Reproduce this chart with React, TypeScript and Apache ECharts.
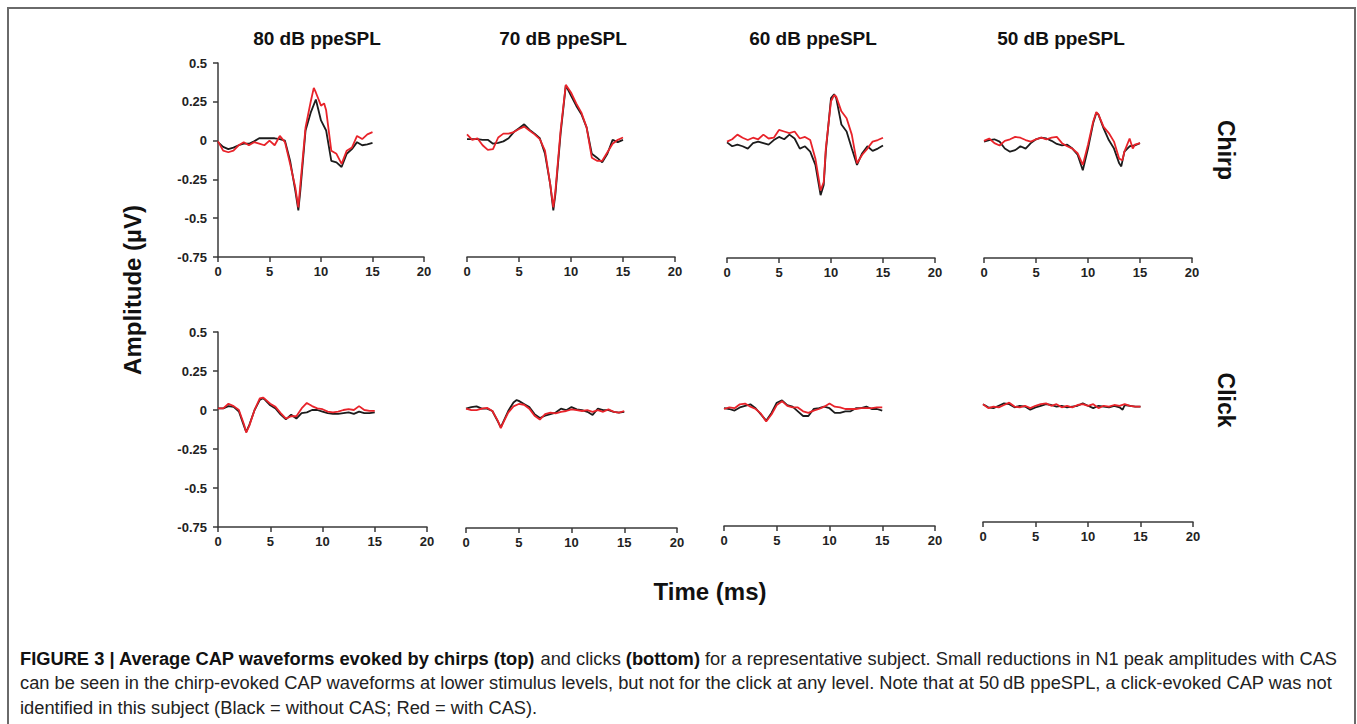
import React, { useEffect, useRef } from "react";
import * as echarts from "echarts";

// ---------- Data (time in ms, amplitude in µV) ----------
const levels = ["80 dB ppeSPL", "70 dB ppeSPL", "60 dB ppeSPL", "50 dB ppeSPL"];
const xTicks = [0, 5, 10, 15, 20];
const yTicks = [0.5, 0.25, 0, -0.25, -0.5, -0.75];

const chirp80Black = [[0,-0.01],[0.5,-0.04],[1,-0.055],[1.5,-0.045],[2,-0.03],[2.5,-0.02],[3,-0.02],[3.5,-0.005],[4,0.015],[4.5,0.015],[5,0.015],[5.5,0.015],[6,0.01],[6.5,0],[7,-0.13],[7.5,-0.32],[7.8,-0.45],[8,-0.32],[8.5,0.065],[9,0.18],[9.5,0.265],[10,0.13],[10.5,0.065],[11,-0.13],[11.5,-0.14],[12,-0.17],[12.5,-0.085],[13,-0.055],[13.5,-0.01],[14,-0.03],[14.5,-0.025],[15,-0.015]];
const chirp80Red = [[0,-0.005],[0.5,-0.065],[1,-0.075],[1.5,-0.065],[2,-0.03],[2.5,-0.01],[3,-0.03],[3.5,-0.01],[4,-0.02],[4.5,-0.03],[5,0],[5.5,-0.03],[6,0.03],[6.5,-0.01],[7,-0.15],[7.5,-0.3],[7.8,-0.43],[8,-0.28],[8.5,0.085],[9,0.25],[9.3,0.34],[9.5,0.31],[10,0.225],[10.3,0.24],[10.5,0.195],[11,-0.065],[11.5,-0.085],[12,-0.15],[12.5,-0.065],[13,-0.045],[13.5,0.03],[14,0.01],[14.5,0.04],[15,0.055]];

const chirp70Black = [[0,0.01],[0.5,0.01],[1,0.01],[1.5,0.005],[2,0.005],[2.5,-0.02],[3,-0.015],[3.5,-0.005],[4,0.015],[4.5,0.055],[5,0.08],[5.5,0.105],[6,0.07],[6.5,0.045],[7,0.015],[7.5,-0.085],[8,-0.28],[8.3,-0.45],[8.5,-0.345],[9,0.045],[9.5,0.356],[10,0.29],[10.5,0.225],[11,0.17],[11.5,0.085],[12,-0.085],[12.5,-0.11],[13,-0.14],[13.5,-0.085],[14,0.005],[14.5,-0.01],[15,0.005]];
const chirp70Red = [[0,0.04],[0.5,0.005],[1,0.015],[1.5,-0.03],[2,-0.06],[2.5,-0.055],[3,0.02],[3.5,0.045],[4,0.045],[4.5,0.055],[5,0.075],[5.5,0.09],[6,0.065],[6.5,0.04],[7,0.01],[7.5,-0.065],[8,-0.28],[8.3,-0.43],[8.5,-0.325],[9,0.065],[9.5,0.36],[10,0.31],[10.5,0.24],[11,0.18],[11.5,0.085],[12,-0.11],[12.5,-0.13],[13,-0.13],[13.5,-0.075],[14,-0.02],[14.5,0.005],[15,0.02]];

const chirp60Black = [[0,-0.005],[0.5,-0.03],[1,-0.02],[1.5,-0.03],[2,-0.045],[2.5,-0.01],[3,0],[3.5,-0.01],[4,-0.02],[4.5,0.01],[5,0.03],[5.5,0.015],[6,0.045],[6.5,0.02],[7,-0.045],[7.5,-0.03],[8,-0.065],[8.5,-0.15],[9,-0.345],[9.3,-0.28],[9.5,-0.065],[10,0.28],[10.3,0.305],[10.5,0.28],[11,0.11],[11.5,0.065],[12,-0.045],[12.5,-0.15],[13,-0.075],[13.5,-0.03],[14,-0.06],[14.5,-0.045],[15,-0.025]];
const chirp60Red = [[0,0],[0.5,0.015],[1,0.045],[1.5,0.025],[2,0.01],[2.5,0.025],[3,0.015],[3.5,0.045],[4,0.02],[4.5,0.025],[5,0.075],[5.5,0.065],[6,0.055],[6.5,0.065],[7,0.02],[7.5,0.03],[8,0.01],[8.5,-0.11],[9,-0.315],[9.3,-0.26],[9.5,-0.045],[10,0.26],[10.3,0.3],[10.5,0.29],[11,0.195],[11.5,0.15],[12,0.045],[12.5,-0.14],[13,-0.085],[13.5,-0.045],[14,0],[14.5,0.01],[15,0.025]];

const chirp50Black = [[0,0],[0.5,0.01],[1,0.015],[1.5,0],[2,-0.045],[2.5,-0.065],[3,-0.055],[3.5,-0.03],[4,-0.045],[4.5,-0.01],[5,0.015],[5.5,0.025],[6,0.02],[6.5,0.005],[7,-0.015],[7.5,-0.025],[8,-0.02],[8.5,-0.045],[9,-0.085],[9.5,-0.185],[10,-0.045],[10.5,0.12],[10.8,0.185],[11,0.175],[11.5,0.085],[12,0.01],[12.5,-0.045],[13,-0.14],[13.2,-0.16],[13.5,-0.065],[14,-0.03],[14.5,-0.025],[15,-0.01]];
const chirp50Red = [[0,0.005],[0.5,0.02],[1,-0.01],[1.5,-0.025],[2,0.005],[2.5,0.015],[3,0.03],[3.5,0.025],[4,0.01],[4.5,0],[5,0.015],[5.5,0.025],[6,0.015],[6.5,0.025],[7,0.03],[7.5,-0.01],[8,-0.03],[8.5,-0.045],[9,-0.075],[9.5,-0.15],[10,-0.02],[10.5,0.13],[10.8,0.19],[11,0.175],[11.5,0.095],[12,0.055],[12.5,0],[13,-0.11],[13.3,-0.12],[13.5,-0.065],[14,0.02],[14.3,-0.045],[14.5,-0.02],[15,-0.01]];

const click80Black = [[0,0.01],[0.5,0.01],[1,0.025],[1.5,0.02],[2,-0.01],[2.5,-0.105],[2.7,-0.14],[3,-0.095],[3.5,0],[4,0.065],[4.3,0.075],[4.5,0.065],[5,0.03],[5.5,0.01],[6,-0.03],[6.5,-0.06],[7,-0.03],[7.5,-0.055],[8,-0.02],[8.5,-0.015],[9,0],[9.5,0],[10,-0.01],[10.5,-0.02],[11,-0.025],[11.5,-0.025],[12,-0.02],[12.5,-0.015],[13,-0.025],[13.5,-0.01],[14,-0.02],[14.5,-0.02],[15,-0.015]];
const click80Red = [[0,0.01],[0.5,0.01],[1,0.04],[1.5,0.025],[2,0],[2.5,-0.095],[2.7,-0.145],[3,-0.1],[3.5,0],[4,0.075],[4.3,0.08],[4.5,0.07],[5,0.04],[5.5,0.02],[6,-0.02],[6.5,-0.055],[7,-0.04],[7.5,-0.04],[8,0.01],[8.5,0.045],[9,0.025],[9.5,0.01],[10,0.005],[10.5,-0.01],[11,-0.015],[11.5,-0.01],[12,0],[12.5,0.005],[13,0],[13.5,0.025],[14,0],[14.5,-0.005],[15,-0.005]];

const click70Black = [[0,0.015],[0.5,0.025],[1,0.03],[1.5,0.015],[2,0.015],[2.5,0],[3,-0.065],[3.3,-0.105],[3.5,-0.075],[4,0],[4.5,0.055],[4.8,0.07],[5,0.065],[5.5,0.045],[6,0.025],[6.5,-0.02],[7,-0.045],[7.5,-0.03],[8,-0.02],[8.5,-0.01],[9,0.015],[9.5,0.005],[10,0.025],[10.5,0.01],[11,0.005],[11.5,-0.005],[12,-0.025],[12.5,0.015],[13,0.005],[13.5,0.005],[14,-0.005],[14.5,-0.01],[15,-0.005]];
const click70Red = [[0,0.015],[0.5,0.005],[1,0.005],[1.5,0.015],[2,0.02],[2.5,0],[3,-0.06],[3.3,-0.11],[3.5,-0.08],[4,-0.01],[4.5,0.03],[5,0.045],[5.5,0.04],[6,0.015],[6.5,-0.03],[7,-0.055],[7.5,-0.02],[8,-0.01],[8.5,-0.015],[9,-0.005],[9.5,0],[10,0.01],[10.5,0.005],[11,0],[11.5,0.005],[12,-0.005],[12.5,0.005],[13,-0.005],[13.5,0.01],[14,-0.005],[14.5,-0.01],[15,0]];

const click60Black = [[0,0.005],[0.5,0],[1,-0.01],[1.5,0.01],[2,0.02],[2.5,0.03],[3,0.005],[3.5,-0.035],[4,-0.075],[4.5,-0.025],[5,0.04],[5.5,0.055],[6,0.025],[6.5,0.015],[7,-0.015],[7.5,-0.045],[8,-0.045],[8.5,0],[9,0.005],[9.5,0.015],[10,0.005],[10.5,-0.025],[11,-0.025],[11.5,-0.015],[12,-0.015],[12.5,0.005],[13,0.005],[13.5,0.015],[14,0],[14.5,0],[15,-0.01]];
const click60Red = [[0,0],[0.5,0.01],[1,0.005],[1.5,0.03],[2,0.035],[2.5,0.015],[3,0],[3.5,-0.03],[4,-0.08],[4.5,-0.035],[5,0.025],[5.5,0.05],[6,0.02],[6.5,0.01],[7,0.01],[7.5,-0.015],[8,-0.025],[8.5,-0.01],[9,0],[9.5,0.015],[10,0.035],[10.5,0.015],[11,0.01],[11.5,0],[12,0],[12.5,0],[13,0.005],[13.5,0.005],[14,0.005],[14.5,0.01],[15,0.01]];

const click50Black = [[0,0.005],[0.5,-0.015],[1,-0.02],[1.5,-0.005],[2,0.01],[2.5,0.005],[3,-0.015],[3.5,-0.005],[4,-0.01],[4.5,-0.03],[5,-0.015],[5.5,-0.005],[6,0.005],[6.5,0],[7,-0.01],[7.5,-0.005],[8,-0.015],[8.5,-0.01],[9,-0.005],[9.5,0.01],[10,-0.005],[10.5,-0.02],[11,-0.005],[11.5,-0.01],[12,-0.015],[12.5,-0.005],[13,-0.015],[13.3,-0.03],[13.5,0],[14,-0.005],[14.5,-0.01],[15,-0.01]];
const click50Red = [[0,0.005],[0.5,-0.02],[1,-0.01],[1.5,-0.015],[2,0],[2.5,0.015],[3,-0.01],[3.5,-0.015],[4,-0.005],[4.5,-0.02],[5,-0.005],[5.5,0.005],[6,0.01],[6.5,-0.005],[7,0.005],[7.5,-0.015],[8,-0.005],[8.5,-0.015],[9,0],[9.5,0.005],[10,-0.005],[10.5,0.005],[11,-0.02],[11.5,-0.005],[12,-0.01],[12.5,0],[13,-0.005],[13.5,0.005],[14,-0.005],[14.5,-0.01],[15,-0.01]];

const panels = [
  { black: chirp80Black, red: chirp80Red },
  { black: chirp70Black, red: chirp70Red },
  { black: chirp60Black, red: chirp60Red },
  { black: chirp50Black, red: chirp50Red },
  { black: click80Black, red: click80Red },
  { black: click70Black, red: click70Red },
  { black: click60Black, red: click60Red },
  { black: click50Black, red: click50Red },
];

// ---------- Layout ----------
const grids = [
  { left: 218, top: 63, width: 206, height: 194 },
  { left: 467, top: 63, width: 208, height: 194 },
  { left: 727, top: 64, width: 208, height: 194 },
  { left: 984, top: 64, width: 208, height: 194 },
  { left: 218, top: 332, width: 209, height: 195 },
  { left: 466, top: 333, width: 211, height: 195 },
  { left: 724, top: 331, width: 211, height: 195 },
  { left: 983, top: 327, width: 210, height: 195 },
];
const titleX = [317, 563, 813, 1061];

const FONT = "'Liberation Sans', Arial, Helvetica, sans-serif";
const AXIS_COLOR = "#3a3a3a";
const BLACK = "#1c1c1c";
const RED = "#e8232a";

export default function App() {
  const ref = useRef<HTMLDivElement>(null);

  useEffect(() => {
    if (!ref.current) return;
    const chart = echarts.init(ref.current, null, { renderer: "svg" });

    const xAxis = grids.map((_, i) => ({
      type: "value",
      gridIndex: i,
      min: xTicks[0],
      max: xTicks[xTicks.length - 1],
      interval: 5,
      axisLine: { onZero: false, lineStyle: { color: AXIS_COLOR, width: 1.5 } },
      axisTick: { show: true, length: 5, lineStyle: { color: AXIS_COLOR, width: 1.5 } },
      axisLabel: { fontFamily: FONT, fontWeight: "bold", fontSize: 13, color: "#222", margin: 8 },
      splitLine: { show: false },
    }));

    const yAxis = grids.map((_, i) => ({
      type: "value",
      gridIndex: i,
      show: i === 0 || i === 4,
      min: yTicks[yTicks.length - 1],
      max: yTicks[0],
      interval: 0.25,
      axisLine: { show: true, onZero: false, lineStyle: { color: AXIS_COLOR, width: 1.5 } },
      axisTick: { show: true, length: 5, lineStyle: { color: AXIS_COLOR, width: 1.5 } },
      axisLabel: { fontFamily: FONT, fontWeight: "bold", fontSize: 13, color: "#222", margin: 11 },
      splitLine: { show: false },
    }));

    const series: any[] = [];
    panels.forEach((p, i) => {
      series.push({
        type: "line", xAxisIndex: i, yAxisIndex: i, data: p.black, showSymbol: false,
        lineStyle: { color: BLACK, width: 1.8 }, itemStyle: { color: BLACK },
      });
      series.push({
        type: "line", xAxisIndex: i, yAxisIndex: i, data: p.red, showSymbol: false,
        lineStyle: { color: RED, width: 1.8 }, itemStyle: { color: RED },
      });
    });

    const captionRich = {
      b: { fontFamily: FONT, fontWeight: "bold", fontSize: 18.3, fill: "#111" },
      n: { fontFamily: FONT, fontWeight: "normal", fontSize: 18.3, fill: "#222" },
    };

    const graphic: any[] = [
      {
        type: "rect", silent: true,
        shape: { x: 8, y: 8, width: 1347, height: 740 },
        style: { fill: "none", stroke: "#6a6a6a", lineWidth: 2 },
      },
      ...levels.map((t, i) => ({
        type: "text", x: titleX[i], y: 38,
        style: { text: t, font: `bold 19px ${FONT}`, fill: "#111", align: "center", verticalAlign: "middle" },
      })),
      {
        type: "text", x: 1226, y: 150, rotation: -Math.PI / 2,
        style: { text: "Chirp", font: `bold 23px ${FONT}`, fill: "#111", align: "center", verticalAlign: "middle" },
      },
      {
        type: "text", x: 1226, y: 400, rotation: -Math.PI / 2,
        style: { text: "Click", font: `bold 23px ${FONT}`, fill: "#111", align: "center", verticalAlign: "middle" },
      },
      {
        type: "text", x: 132, y: 290, rotation: Math.PI / 2,
        style: { text: "Amplitude (µV)", font: `bold 24px ${FONT}`, fill: "#111", align: "center", verticalAlign: "middle" },
      },
      {
        type: "text", x: 710, y: 591,
        style: { text: "Time (ms)", font: `bold 24px ${FONT}`, fill: "#111", align: "center", verticalAlign: "middle" },
      },
      {
        type: "text", x: 20, y: 658,
        style: {
          text: "{b|FIGURE 3 | Average CAP waveforms evoked by chirps (top)}{n| and clicks }{b|(bottom)}{n| for a representative subject. Small reductions in N1 peak amplitudes with CAS}",
          rich: captionRich, align: "left", verticalAlign: "middle",
        },
      },
      {
        type: "text", x: 20, y: 682,
        style: {
          text: "{n|can be seen in the chirp-evoked CAP waveforms at lower stimulus levels, but not for the click at any level. Note that at 50\u2009dB ppeSPL, a click-evoked CAP was not}",
          rich: captionRich, align: "left", verticalAlign: "middle",
        },
      },
      {
        type: "text", x: 20, y: 707,
        style: {
          text: "{n|identified in this subject (Black = without CAS; Red = with CAS).}",
          rich: captionRich, align: "left", verticalAlign: "middle",
        },
      },
    ];

    chart.setOption({
      animation: false,
      backgroundColor: "#ffffff",
      grid: grids.map((g) => ({ ...g, containLabel: false })),
      xAxis,
      yAxis,
      series,
      graphic,
    });

    return () => chart.dispose();
  }, []);

  return (
    <div
      ref={ref}
      style={{ position: "absolute", left: 0, top: 0, width: 1357, height: 724 }}
    />
  );
}
